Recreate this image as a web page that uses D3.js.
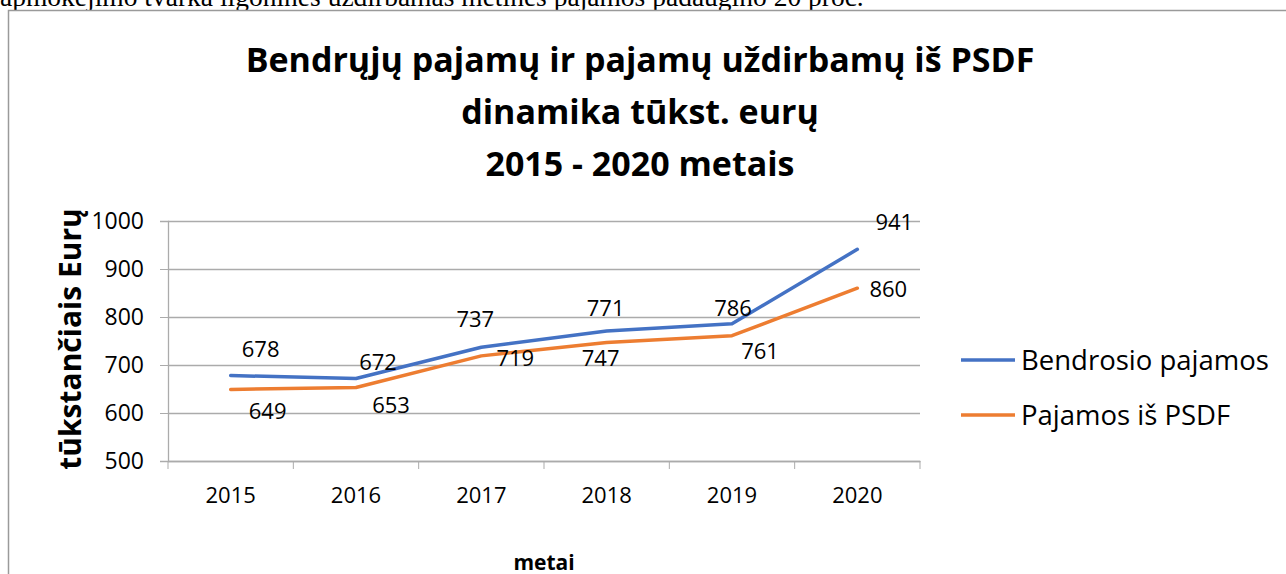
<!DOCTYPE html>
<html>
<head>
<meta charset="utf-8">
<script src="https://cdn.jsdelivr.net/npm/d3@7"></script>
<style>
  body { margin: 0; background: #fff; }
  svg { display: block; }
  .tick text { font-family: "Open Sans", sans-serif; fill: #000; }
</style>
</head>
<body>
<div id="line-graph"></div>
<script>
var years = ["2015", "2016", "2017", "2018", "2019", "2020"];
var bendrosio = [678, 672, 737, 771, 786, 941];
var psdf = [649, 653, 719, 747, 761, 860];
var yTicks = [500, 600, 700, 800, 900, 1000];
var seriesNames = ["Bendrosio pajamos", "Pajamos iš PSDF"];
var seriesColors = ["#4472c4", "#ed7d31"];
var titleLines = ["Bendrųjų pajamų ir pajamų uždirbamų iš PSDF", "dinamika tūkst. eurų", "2015 - 2020 metais"];
// label nudges as in the original (dx, dy from the point)
var bendrosioNudge = [[30, -26], [22, -16], [-6, -28], [-1, -23], [1, -15], [37, -27]];
var psdfNudge = [[37, 22], [35, 18], [34, 2], [-6, 16], [28, 16], [31, 1]];

(function mainfigure() {
  var W = 1286, H = 574;
  var margin = { top: 221, left: 168 },
    width = 752,
    height = 240;

  var svg = d3.select("#line-graph").append("svg")
    .attr("width", W)
    .attr("height", H);

  // cut-off line of document text above the chart
  svg.append("text")
    .attr("x", 0)
    .attr("y", 6)
    .style("font-family", "'Liberation Serif', serif")
    .style("font-size", "27.5px")
    .text("apmokėjimo tvarka ligoninės uždirbamas metinės pajamos padaugino 20 proc.");

  // chart frame
  svg.append("rect")
    .attr("x", 8.5).attr("y", 10.5)
    .attr("width", W + 10).attr("height", H + 10)
    .attr("fill", "#fff")
    .attr("stroke", "#9a9a9a")
    .attr("stroke-width", 1.5);

  svg.append("text")
    .attr("text-anchor", "middle")
    .style("font-family", "'Open Sans', sans-serif")
    .style("font-weight", "bold")
    .style("font-size", "34px")
    .selectAll("tspan")
    .data(titleLines)
    .enter().append("tspan")
    .attr("x", 640)
    .attr("y", function(d, i) { return 72 + i * 52; })
    .text(function(d) { return d; });

  var x = d3.scaleBand().domain(years).range([0, width]);
  var y = d3.scaleLinear().domain([500, 1000]).range([height, 0]);

  var g = svg.append("g")
    .attr("transform", "translate(" + margin.left + "," + margin.top + ")");

  // gridlines
  g.append("g")
    .selectAll("line")
    .data(yTicks)
    .enter().append("line")
    .attr("x1", 0).attr("x2", width)
    .attr("y1", function(d) { return Math.round(y(d)) + 0.5; })
    .attr("y2", function(d) { return Math.round(y(d)) + 0.5; })
    .attr("stroke", "#ababab")
    .attr("stroke-width", 1.3);

  var yAxis = g.append("g")
    .call(d3.axisLeft(y).tickValues(yTicks).tickFormat(d3.format("d")).tickSize(8).tickPadding(16));
  yAxis.select(".domain").attr("stroke", "#ababab").attr("stroke-width", 1.3);
  yAxis.selectAll(".tick line").attr("stroke", "#ababab");
  yAxis.selectAll(".tick text").style("font-size", "23px");

  var xAxis = g.append("g")
    .attr("transform", "translate(0," + height + ")")
    .call(d3.axisBottom(x).tickSize(0).tickPadding(26));
  xAxis.select(".domain").attr("stroke", "#ababab").attr("stroke-width", 1.3);
  xAxis.selectAll(".tick text").style("font-size", "22px");
  xAxis.selectAll(".xtick")
    .data(d3.range(years.length + 1))
    .enter().append("line")
    .attr("x1", function(i) { return i * x.bandwidth(); })
    .attr("x2", function(i) { return i * x.bandwidth(); })
    .attr("y1", 0).attr("y2", 8)
    .attr("stroke", "#ababab");

  var cx = function(i) { return x(years[i]) + x.bandwidth() / 2; };
  var line = d3.line()
    .x(function(d, i) { return cx(i); })
    .y(function(d) { return y(d); });

  var series = [bendrosio, psdf];
  var nudges = [bendrosioNudge, psdfNudge];

  series.forEach(function(vals, s) {
    g.append("path")
      .datum(vals)
      .attr("fill", "none")
      .attr("stroke", seriesColors[s])
      .attr("stroke-width", 3.5)
      .attr("stroke-linejoin", "round")
      .attr("stroke-linecap", "round")
      .attr("d", line);
  });

  series.forEach(function(vals, s) {
    g.selectAll(".lbl" + s)
      .data(vals)
      .enter().append("text")
      .attr("x", function(d, i) { return cx(i) + nudges[s][i][0]; })
      .attr("y", function(d, i) { return y(d) + nudges[s][i][1]; })
      .attr("text-anchor", "middle")
      .attr("dy", "0.35em")
      .style("font-family", "'Open Sans', sans-serif")
      .style("font-size", "22px")
      .text(function(d) { return d; });
  });

  svg.append("text")
    .attr("transform", "translate(70," + (margin.top + height / 2 - 2) + ") rotate(-90)")
    .attr("text-anchor", "middle")
    .attr("dy", "0.35em")
    .style("font-family", "'Open Sans', sans-serif")
    .style("font-weight", "bold")
    .style("font-size", "30px")
    .text("tūkstančiais Eurų");

  svg.append("text")
    .attr("x", margin.left + width / 2)
    .attr("y", 570)
    .attr("text-anchor", "middle")
    .style("font-family", "'Open Sans', sans-serif")
    .style("font-weight", "bold")
    .style("font-size", "21px")
    .text("metai");

  var legend = svg.append("g").attr("transform", "translate(961,360)");
  seriesNames.forEach(function(name, s) {
    legend.append("line")
      .attr("x1", 0).attr("x2", 54)
      .attr("y1", s * 55).attr("y2", s * 55)
      .attr("stroke", seriesColors[s])
      .attr("stroke-width", 3.5);
    legend.append("text")
      .attr("x", 60)
      .attr("y", s * 55)
      .attr("dy", "0.35em")
      .style("font-family", "'Open Sans', sans-serif")
      .style("font-size", "27.5px")
      .text(name);
  });
})();
</script>
</body>
</html>
